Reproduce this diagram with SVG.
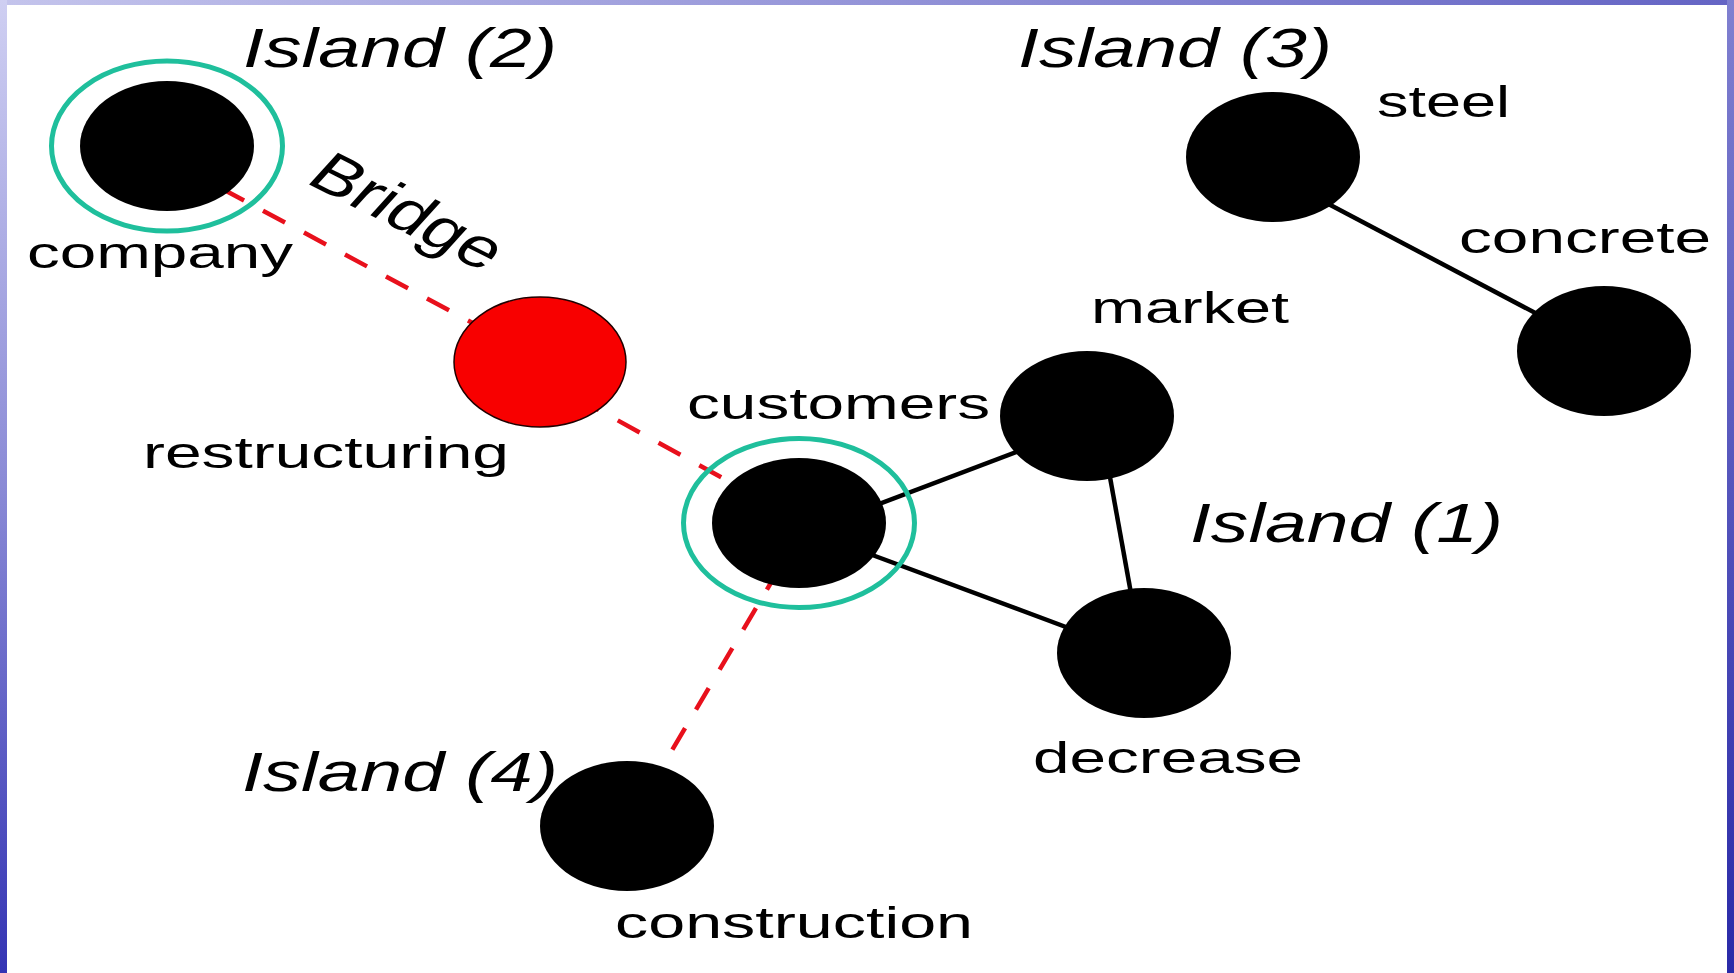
<svg xmlns="http://www.w3.org/2000/svg" width="1734" height="973" viewBox="0 0 1734 973">
<defs>
<linearGradient id="gTop" x1="0" y1="0" x2="1" y2="0"><stop offset="0" stop-color="#c4c4ec"/><stop offset="1" stop-color="#6464c4"/></linearGradient>
<linearGradient id="gLeft" x1="0" y1="0" x2="0" y2="1"><stop offset="0" stop-color="#cfcff2"/><stop offset="0.5" stop-color="#8a8ad6"/><stop offset="1" stop-color="#3434b4"/></linearGradient>
<linearGradient id="gRight" x1="0" y1="0" x2="0" y2="1"><stop offset="0" stop-color="#8080d0"/><stop offset="1" stop-color="#2a2aa8"/></linearGradient>
</defs>
<style>
.lbl{font-family:"Liberation Sans",Arial,sans-serif;font-size:45px;fill:#000}
.isl{font-style:italic;font-size:56px}
.node{fill:#000}
.red{fill:#f80000;stroke:#200000;stroke-width:1.5}
.ring{fill:none;stroke:#1fbf9c;stroke-width:5}
.edge{stroke:#000;stroke-width:4.5;fill:none}
.bridge{stroke:#e8101c;stroke-width:4.5;stroke-dasharray:25 21.5;fill:none}
</style>
<rect x="0" y="0" width="1734" height="973" fill="#ffffff"/>
<rect x="0" y="0" width="1734" height="5" fill="url(#gTop)"/>
<rect x="0" y="0" width="7" height="973" fill="url(#gLeft)"/>
<rect x="1727" y="0" width="7" height="973" fill="url(#gRight)"/>

<g id="connectors">
<line class="edge" x1="850" y1="515" x2="1040" y2="443"/>
<line class="edge" x1="840" y1="543" x2="1090" y2="636"/>
<line class="edge" x1="1106" y1="455" x2="1134" y2="610"/>
<line class="edge" x1="1300" y1="189" x2="1560" y2="326"/>
<line class="bridge" x1="222" y1="188.7" x2="540" y2="359"/>
<line class="bridge" x1="577" y1="398" x2="770" y2="504"/>
<line class="bridge" x1="779.6" y1="568" x2="648.6" y2="790"/>
</g>

<g id="node-company">
<ellipse class="node" cx="167" cy="146" rx="87" ry="65"/>
<ellipse class="ring" cx="167" cy="146" rx="115.5" ry="85"/>
<text class="lbl" x="27" y="268" textLength="266" lengthAdjust="spacingAndGlyphs">company</text>
</g>
<g id="node-restructuring">
<ellipse class="red" cx="540" cy="362" rx="86" ry="65"/>
<text class="lbl" x="143" y="468" textLength="366" lengthAdjust="spacingAndGlyphs">restructuring</text>
</g>
<g id="node-customers">
<ellipse class="node" cx="799" cy="523" rx="87" ry="65"/>
<ellipse class="ring" cx="799" cy="523" rx="115.5" ry="84.5"/>
<text class="lbl" x="687" y="419" textLength="303" lengthAdjust="spacingAndGlyphs">customers</text>
</g>
<g id="node-market">
<ellipse class="node" cx="1087" cy="416" rx="87" ry="65"/>
<text class="lbl" x="1091" y="323" textLength="198" lengthAdjust="spacingAndGlyphs">market</text>
</g>
<g id="node-decrease">
<ellipse class="node" cx="1144" cy="653" rx="87" ry="65"/>
<text class="lbl" x="1033" y="773" textLength="270" lengthAdjust="spacingAndGlyphs">decrease</text>
</g>
<g id="node-steel">
<ellipse class="node" cx="1273" cy="157" rx="87" ry="65"/>
<text class="lbl" x="1377" y="117" textLength="133" lengthAdjust="spacingAndGlyphs">steel</text>
</g>
<g id="node-concrete">
<ellipse class="node" cx="1604" cy="351" rx="87" ry="65"/>
<text class="lbl" x="1459" y="253" textLength="252" lengthAdjust="spacingAndGlyphs">concrete</text>
</g>
<g id="node-construction">
<ellipse class="node" cx="627" cy="826" rx="87" ry="65"/>
<text class="lbl" x="615" y="938" textLength="358" lengthAdjust="spacingAndGlyphs">construction</text>
</g>

<g id="labels">
<text class="lbl isl" x="243" y="67" textLength="314" lengthAdjust="spacingAndGlyphs">Island (2)</text>
<text class="lbl isl" x="1018" y="67" textLength="314" lengthAdjust="spacingAndGlyphs">Island (3)</text>
<text class="lbl isl" x="1190" y="542" textLength="313" lengthAdjust="spacingAndGlyphs">Island (1)</text>
<text class="lbl isl" x="242" y="791" textLength="316" lengthAdjust="spacingAndGlyphs">Island (4)</text>
<text class="lbl" transform="translate(304,182) scale(1.34,1) rotate(34)" style="font-size:56px">Bridge</text>
</g>
</svg>
